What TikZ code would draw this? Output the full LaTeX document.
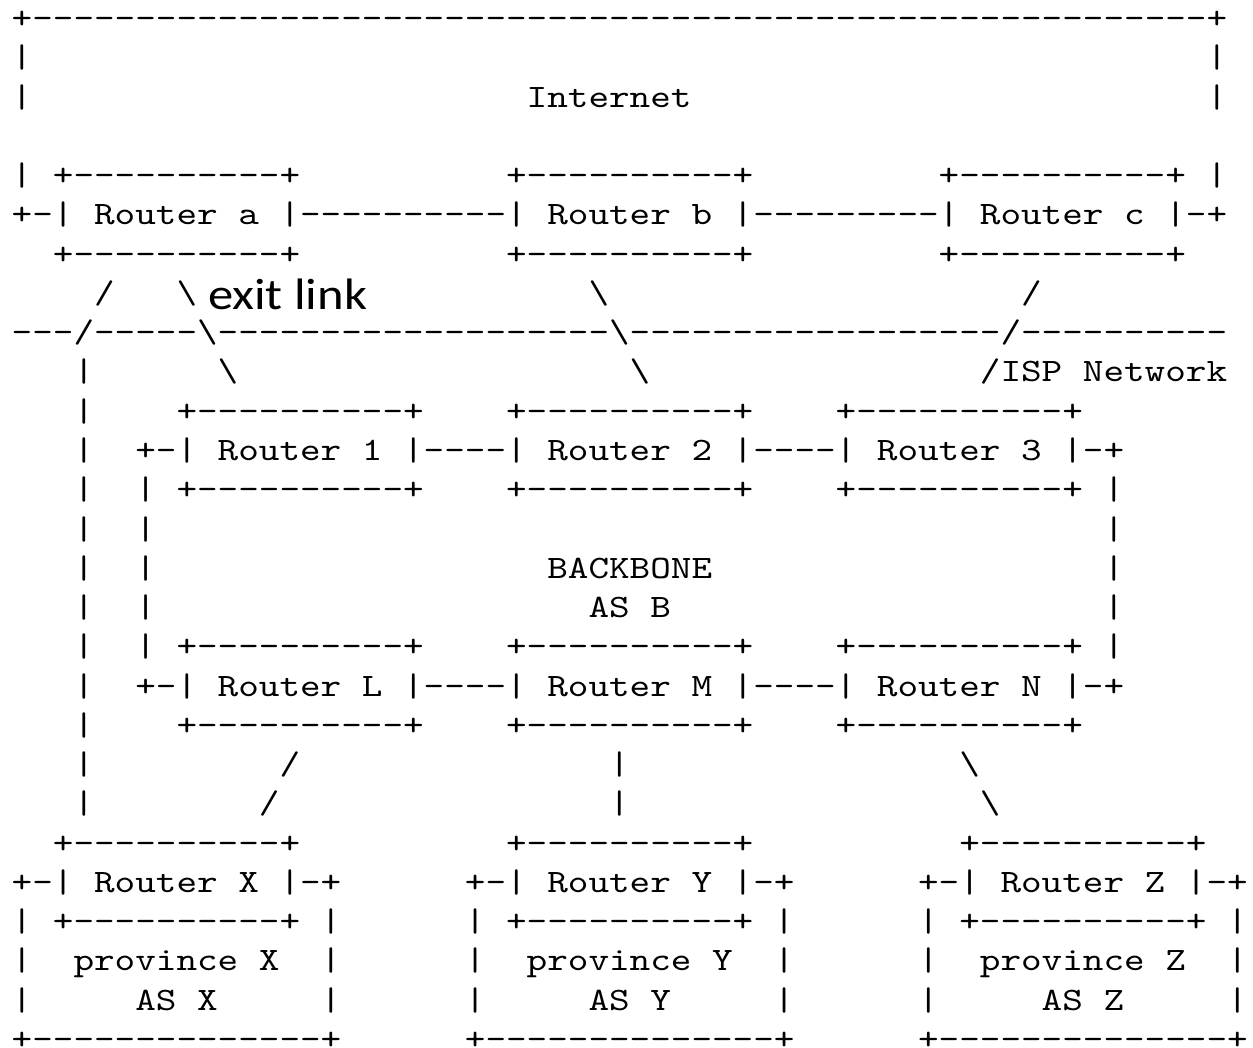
\documentclass[tikz,border=0pt]{standalone}
\usepackage{fontspec}
\newfontfamily\asc{lmmono10-regular.otf}[FakeStretch=1.2]
\newfontfamily\exitf{Carlito}[FakeStretch=1.15]
\newcommand\bs{\textbackslash}
\tikzset{
  asc/.style={anchor=base west, inner sep=0pt, outer sep=0pt,
    font=\asc\fontsize{32.7pt}{39pt}\selectfont},
  exitlabel/.style={anchor=base west, inner sep=0pt, outer sep=0pt,
    font=\exitf\fontsize{44pt}{50pt}\selectfont}
}
\newcommand\At[3]{\node[asc] (r#1c#2) at ({11.7pt+#2*20.6pt},{-225pt-(#1-6)*39.25pt}) {#3};}
\begin{document}
\begin{tikzpicture}
\useasboundingbox (0,0) rectangle (1253pt,-1048pt);
% Internet box
\At{1}{0}{+---------------------------------------------------------+}
\At{2}{0}{|}\At{2}{58}{|}
\At{3}{0}{|}\At{3}{25}{Internet}\At{3}{58}{|}
\At{5}{0}{|}\At{5}{2}{+----------+}\At{5}{24}{+----------+}\At{5}{45}{+----------+}\At{5}{58}{|}
\At{6}{0}{+-|~Router~a~|----------|~Router~b~|---------|~Router~c~|-+}
\At{7}{2}{+----------+}\At{7}{24}{+----------+}\At{7}{45}{+----------+}
% exit links
\At{8}{4}{/}\At{8}{8}{\bs}\At{8}{28}{\bs}\At{8}{49}{/}
\node[exitlabel] (exit) at (208pt,-310pt) {exit link};
\At{9}{0}{---/-----\bs-------------------\bs------------------/----------}
\At{10}{3}{|}\At{10}{10}{\bs}\At{10}{30}{\bs}\At{10}{47}{/ISP~Network}
% backbone
\At{11}{3}{|}\At{11}{8}{+----------+}\At{11}{24}{+----------+}\At{11}{40}{+----------+}
\At{12}{3}{|}\At{12}{6}{+-|~Router~1~|----|~Router~2~|----|~Router~3~|-+}
\At{13}{3}{|}\At{13}{6}{|}\At{13}{8}{+----------+}\At{13}{24}{+----------+}\At{13}{40}{+----------+}\At{13}{53}{|}
\At{14}{3}{|}\At{14}{6}{|}\At{14}{53}{|}
\At{15}{3}{|}\At{15}{6}{|}\At{15}{26}{BACKBONE}\At{15}{53}{|}
\At{16}{3}{|}\At{16}{6}{|}\At{16}{28}{AS~B}\At{16}{53}{|}
\At{17}{3}{|}\At{17}{6}{|}\At{17}{8}{+----------+}\At{17}{24}{+----------+}\At{17}{40}{+----------+}\At{17}{53}{|}
\At{18}{3}{|}\At{18}{6}{+-|~Router~L~|----|~Router~M~|----|~Router~N~|-+}
\At{19}{3}{|}\At{19}{8}{+----------+}\At{19}{24}{+----------+}\At{19}{40}{+----------+}
\At{20}{3}{|}\At{20}{13}{/}\At{20}{29}{|}\At{20}{46}{\bs}
\At{21}{3}{|}\At{21}{12}{/}\At{21}{29}{|}\At{21}{47}{\bs}
% provinces
\At{22}{2}{+----------+}\At{22}{24}{+----------+}\At{22}{46}{+----------+}
\At{23}{0}{+-|~Router~X~|-+}\At{23}{22}{+-|~Router~Y~|-+}\At{23}{44}{+-|~Router~Z~|-+}
\At{24}{0}{|~+----------+~|}\At{24}{22}{|~+----------+~|}\At{24}{44}{|~+----------+~|}
\At{25}{0}{|~~province~X~~|}\At{25}{22}{|~~province~Y~~|}\At{25}{44}{|~~province~Z~~|}
\At{26}{0}{|~~~~~AS~X~~~~~|}\At{26}{22}{|~~~~~AS~Y~~~~~|}\At{26}{44}{|~~~~~AS~Z~~~~~|}
\At{27}{0}{+--------------+}\At{27}{22}{+--------------+}\At{27}{44}{+--------------+}
\end{tikzpicture}
\end{document}
